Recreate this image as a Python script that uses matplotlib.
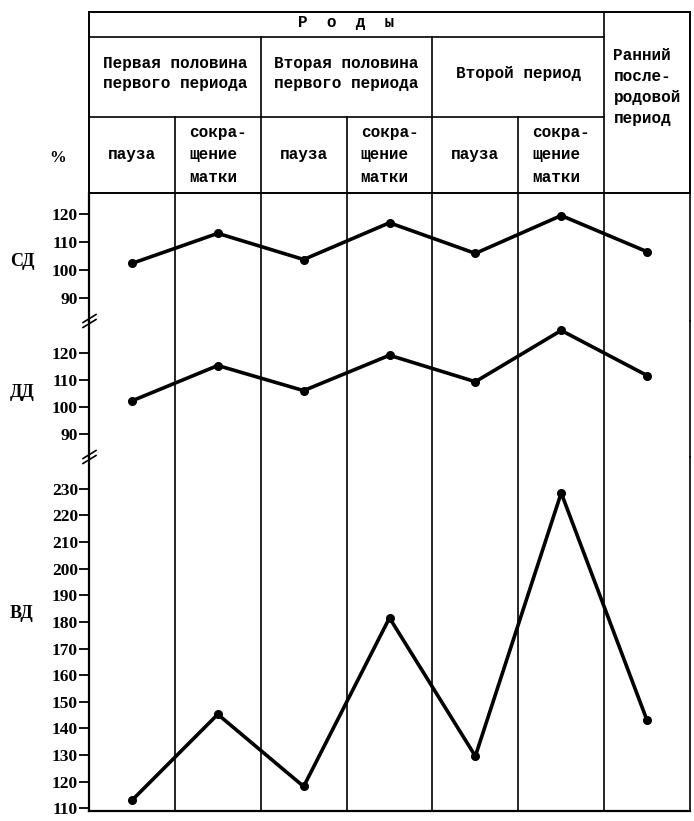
import matplotlib.pyplot as plt
from matplotlib.lines import Line2D
import numpy as np

# columns of the table
groups = ['Первая половина\nпервого периода', 'Вторая половина\nпервого периода', 'Второй период']
phases = ['пауза', 'сокра-\nщение\nматки'] * 3
last_col = 'Ранний\nпосле-\nродовой\nпериод'

# values, % of initial level
sd = [102.4, 113.2, 103.8, 117.0, 106.0, 119.6, 106.6]
dd = [102.4, 115.5, 106.2, 119.3, 109.5, 128.5, 111.8]
vd = [113.0, 145.3, 118.2, 181.5, 129.6, 228.4, 143.0]

sd_ticks = [90, 100, 110, 120]
dd_ticks = [90, 100, 110, 120]
vd_ticks = list(range(110, 240, 10))

W_PX, H_PX = 694, 821
fig = plt.figure(figsize=(W_PX / 100, H_PX / 100), dpi=100)

def fx(px):
    return px / W_PX

def fy(py):
    return 1 - py / H_PX

hfont = dict(family='Liberation Mono', weight='bold', fontsize=11.5)
tfont = dict(family='Liberation Serif', weight='bold', fontsize=12.5)

L, R = fx(89), fx(690)
x = np.arange(len(sd))

# header table
hdr = fig.add_axes([L, fy(193), R - L, fy(12) - fy(193)])
hdr.set_xlim(-0.5, 6.5)
hdr.set_ylim(0, 1)
hdr.set_xticks([])
hdr.set_yticks([])
for s in hdr.spines.values():
    s.set_linewidth(1.4)
lk = dict(color='black', lw=1.2)
hdr.plot([-0.5, 5.5], [0.862, 0.862], **lk)
hdr.plot([-0.5, 5.5], [0.42, 0.42], **lk)
for xv in (1.5, 3.5):
    hdr.plot([xv, xv], [0, 0.862], **lk)
hdr.plot([5.5, 5.5], [0, 1], **lk)
for xv in (0.5, 2.5, 4.5):
    hdr.plot([xv, xv], [0, 0.42], **lk)

hdr.text(2.5, 0.94, 'Р  о  д  ы', ha='center', va='center', **hfont)
for i, g in enumerate(groups):
    hdr.text(2 * i + 0.5, 0.66, g, ha='center', va='center', linespacing=1.35, **hfont)
for i, p in enumerate(phases):
    hdr.text(i, 0.21, p, ha='center', va='center', linespacing=1.6,
             multialignment='left', **hfont)
hdr.text(6.0, 0.585, last_col, ha='center', va='center', linespacing=1.5,
         multialignment='left', **hfont)

# data panels
BOTTOM = 811
panels = [
    (sd, (81.7, 127.7), sd_ticks, 193, 321, 'СД', 262),
    (dd, (81.6, 132.0), dd_ticks, 321, 457, 'ДД', 392),
    (vd, (109.0, 241.9), vd_ticks, 457, BOTTOM, 'ВД', 613),
]
for vals, lim, ticks, top, bot, lab, laby in panels:
    ax = fig.add_axes([L, fy(bot), R - L, fy(top) - fy(bot)])
    ax.plot(x, vals, color='black', lw=2.6, marker='o', ms=5.5)
    ax.set_xlim(-0.5, 6.5)
    ax.set_ylim(*lim)
    ax.set_xticks([])
    ax.set_yticks(ticks)
    ax.set_yticklabels([str(t) for t in ticks], **tfont)
    ax.tick_params(axis='y', direction='out', length=7, width=1.3, pad=1)
    for xv in np.arange(0.5, 6, 1):
        ax.axvline(xv, color='black', lw=1.2)
    ax.spines['top'].set_visible(False)
    ax.spines['bottom'].set_visible(bot == BOTTOM)
    ax.spines['left'].set_linewidth(1.6)
    ax.spines['right'].set_linewidth(1.2)
    ax.spines['bottom'].set_linewidth(1.6)
    ax.patch.set_alpha(0)
    fig.text(fx(22), fy(laby), lab, ha='center', va='center',
             family='Liberation Serif', weight='bold', fontsize=13)

# axis breaks
for yb in (321, 457):
    for d in (-2.5, 2.5):
        fig.add_artist(Line2D([fx(83), fx(96)], [fy(yb + 4 + d), fy(yb - 4 + d)],
                              color='black', lw=1.2))

fig.text(fx(58), fy(158), '%', ha='center', va='center',
         family='Liberation Serif', weight='bold', fontsize=12)

fig.savefig('out.png', dpi=100)
